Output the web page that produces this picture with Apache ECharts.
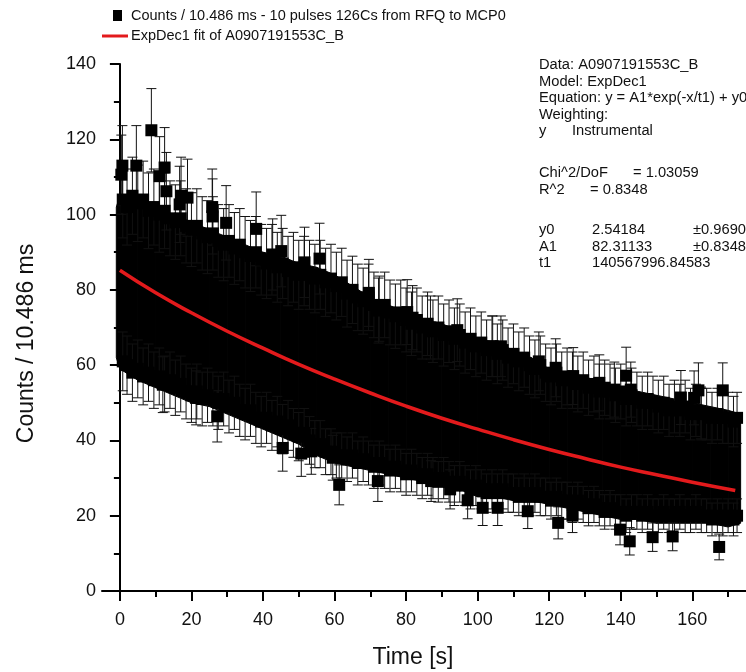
<!DOCTYPE html>
<html><head><meta charset="utf-8">
<script src="https://cdn.jsdelivr.net/npm/echarts@6/dist/echarts.min.js"></script>
<style>html,body{margin:0;padding:0;background:#fff}#c{width:746px;height:672px}</style>
</head><body><div id="c"></div>
<script>
const FONT = '"Liberation Sans", Arial, sans-serif';

// ---- tick labels ----
const xTickValues = [0, 20, 40, 60, 80, 100, 120, 140, 160];
const xMinorTickValues = [10, 30, 50, 70, 90, 110, 130, 150, 170];

// ---- dense data cloud envelope (solid black region) ----
const coreX      = [-1, 0, 5, 10, 15, 20, 25, 30, 35, 40, 45, 50, 55, 60, 65, 70, 75, 80, 85, 90, 95, 100, 105, 110, 115, 120, 125, 130, 135, 140, 145, 150, 155, 160, 165, 170, 173.5];
const coreTop    = [102, 105, 105, 102, 100, 98, 96, 94, 92, 90, 89, 87, 86, 84, 81, 78, 76, 74, 72, 71, 69, 67, 66, 64, 62, 59, 58, 57, 55, 54, 53, 52, 51, 50, 49, 48, 47];
const coreBottom = [62, 59, 56, 54, 52, 50, 49, 47, 45, 43, 41, 39, 36, 34, 33, 32, 31, 30, 29, 28, 27, 25, 25, 24, 24, 23, 22, 21, 20, 19, 19, 18, 18, 18, 18, 17, 18];

// ---- points along the upper and lower edges of the cloud ----
const edgeTopPoints = [[0.8,104],[2,102],[3.5,105],[5,103],[6.5,104],[8,101],[9.5,102],[11,100],[12.5,101],[14,99],[15.5,98],[17,99],[18.5,97],[20,96],[21.5,97],[23,95],[24.5,94],[26,95],[27.5,93],[29,92],[30.5,93],[32,91],[33.5,92],[35,90],[36.5,89],[38,90],[39.5,88],[41,87],[42.5,88],[44,86],[45.5,87],[47,85],[48.5,86],[50,84],[51.5,85],[53,84],[54.5,83],[56,84],[57.5,82],[59,83],[60.5,81],[62,82],[63.5,79],[65,80],[66.5,78],[68,77],[69.5,78],[71,76],[72.5,75],[74,76],[75.5,74],[77,73],[78.5,74],[80,72],[81.5,71],[83,72],[84.5,70],[86,71],[87.5,69],[89,70],[90.5,68],[92,69],[93.5,67],[95,68],[96.5,66],[98,67],[99.5,65],[101,66],[102.5,64],[104,65],[105.5,63],[107,64],[108.5,62],[110,63],[111.5,61],[113,62],[114.5,60],[116,59],[117.5,60],[119,58],[120.5,57],[122,58],[123.5,56],[125,57],[126.5,56],[128,55],[129.5,56],[131,54],[132.5,55],[134,53],[135.5,54],[137,53],[138.5,52],[140,53],[141.5,51],[143,52],[144.5,51],[146,50],[147.5,51],[149,50],[150.5,49],[152,50],[153.5,48],[155,49],[156.5,48],[158,49],[159.5,47],[161,48],[162.5,47],[164,47],[165.5,46],[167,47],[168.5,46],[170,46],[171.5,45],[172.5,46]];
const edgeBottomPoints = [[0.8,61],[2,60],[3.5,58],[5,59],[6.5,57],[8,58],[9.5,56],[11,57],[12.5,55],[14,56],[15.5,54],[17,55],[18.5,53],[20,52],[21.5,53],[23,51],[24.5,52],[26,51],[27.5,50],[29,51],[30.5,49],[32,50],[33.5,48],[35,47],[36.5,48],[38,46],[39.5,45],[41,46],[42.5,44],[44,45],[45.5,43],[47,44],[48.5,42],[50,41],[51.5,42],[53,40],[54.5,39],[56,39],[57.5,37],[59,37],[60.5,36],[62,36],[63.5,35],[65,36],[66.5,34],[68,35],[69.5,34],[71,33],[72.5,34],[74,33],[75.5,32],[77,33],[78.5,32],[80,31],[81.5,32],[83,31],[84.5,30],[86,31],[87.5,30],[89,29],[90.5,30],[92,29],[93.5,28],[95,29],[96.5,28],[98,27],[99.5,28],[101,27],[102.5,26],[104,27],[105.5,26],[107,27],[108.5,26],[110,26],[111.5,25],[113,26],[114.5,25],[116,26],[117.5,25],[119,25],[120.5,24],[122,25],[123.5,24],[125,24],[126.5,23],[128,24],[129.5,23],[131,22],[132.5,23],[134,22],[135.5,21],[137,22],[138.5,21],[140,21],[141.5,20],[143,21],[144.5,21],[146,20],[147.5,21],[149,20],[150.5,20],[152,21],[153.5,20],[155,20],[156.5,21],[158,20],[159.5,20],[161,21],[162.5,20],[164,20],[165.5,19],[167,20],[168.5,19],[170,20],[171.5,19],[172.5,20]];

// ---- isolated outlier points ----
const outlierTopPoints = [[0.4,110.6],[0.7,113],[4.6,113],[8.8,122.4],[11.1,110.2],[12.5,112.5],[13,106.2],[16.7,102.7],[17.1,105],[18.9,104.5],[25.8,102],[25.9,99.5],[29.7,97.8],[38.1,96.2],[42.7,89.4],[45.1,90.3],[51.6,87.3],[55.8,88.3],[69.6,79.2],[72.3,74.5],[80.3,74.1],[81.8,72.6],[86.8,70],[94.3,69.3],[104.2,65],[106.5,65],[117.1,61],[121.8,59.3],[126.7,57.1],[134,55.3],[138.2,53.5],[141.5,57.2],[142.8,53.5],[156.8,51.4],[160.5,51.3],[161.7,53.3],[162.4,47.3],[168.5,53.3]];
const outlierBottomPoints = [[12,54.8],[21.3,51.3],[27.2,46.4],[45.5,38],[50.7,36.5],[53.5,37.1],[59.5,35.4],[61.3,28.2],[72.1,29.2],[87,29.2],[92.3,27],[97.2,24.1],[101.4,22.1],[105.6,22.1],[114,21.2],[122.5,18.1],[126.5,20],[139.8,16.3],[142.5,13.2],[148.9,14.3],[154.5,14.5],[167.5,11.7]];

// ---- fit curve ----
const fitX = [0, 10, 20, 30, 40, 50, 60, 70, 80, 90, 100, 110, 120, 130, 140, 150, 160, 172];
const fitY = [85.2, 79.2, 73.9, 69.0, 64.5, 60.2, 56.3, 52.6, 49.1, 45.9, 43.0, 40.2, 37.6, 35.2, 32.9, 30.9, 28.9, 26.7];

// ---- texts ----
const legendNames = ['Counts / 10.486 ms - 10 pulses 126Cs from RFQ to MCP0', 'ExpDec1 fit of A0907191553C_B'];
const annotationRows = [
  ['Data: A0907191553C_B'],
  ['Model: ExpDec1'],
  ['Equation: y = A1*exp(-x/t1) + y0'],
  ['Weighting:'],
  ['y', 'Instrumental'],
  ['Chi^2/DoF', '= 1.03059'],
  ['R^2', '= 0.8348'],
  ['y0', '2.54184', '\u00b10.9690'],
  ['A1', '82.31133', '\u00b10.8348'],
  ['t1', '140567996.84583']
];

const allPoints = edgeTopPoints.concat(edgeBottomPoints, outlierTopPoints, outlierBottomPoints);
// error bars: instrumental (Poisson) weighting, +/- sqrt(counts)
const errData = allPoints.map(p => [p[0], p[1], p[1] - Math.sqrt(p[1]), p[1] + Math.sqrt(p[1])]);
const coreData = coreX.map((x, i) => [x, coreBottom[i], coreTop[i]]);

function coreRender(params, api) {
  const i = params.dataIndex;
  if (i >= coreX.length - 1) return null;
  const a = api.coord([coreX[i], coreTop[i]]);
  const b = api.coord([coreX[i + 1], coreTop[i + 1]]);
  const c = api.coord([coreX[i + 1], coreBottom[i + 1]]);
  const d = api.coord([coreX[i], coreBottom[i]]);
  return { type: 'polygon', shape: { points: [a, b, c, d] }, style: { fill: '#000', stroke: '#000', lineWidth: 1 } };
}
function errRender(params, api) {
  const x = api.value(0), lo = api.value(2), hi = api.value(3);
  const t = api.coord([x, hi]), b = api.coord([x, lo]);
  const w = 5;
  const st = { stroke: '#111', lineWidth: 1 };
  return { type: 'group', children: [
    { type: 'line', shape: { x1: t[0], y1: t[1], x2: b[0], y2: b[1] }, style: st },
    { type: 'line', shape: { x1: t[0] - w, y1: t[1], x2: t[0] + w, y2: t[1] }, style: st },
    { type: 'line', shape: { x1: b[0] - w, y1: b[1], x2: b[0] + w, y2: b[1] }, style: st }
  ]};
}

const annotY = [65, 82, 98, 115, 131, 173, 190, 230, 247, 263];
const colX = {
  4: [539, 572], 5: [539, 633], 6: [539, 590], 7: [539, 592, 693], 8: [539, 592, 693], 9: [539, 592]
};
const graphics = [
  { type: 'rect', shape: { x: 113, y: 10, width: 9, height: 11 }, style: { fill: '#000' } },
  { type: 'text', x: 131, y: 16, style: { text: legendNames[0], fontSize: 14.5, fontFamily: FONT, fill: '#111', verticalAlign: 'middle' } },
  { type: 'line', shape: { x1: 102, y1: 36, x2: 128, y2: 36 }, style: { stroke: '#e31a1c', lineWidth: 3 } },
  { type: 'text', x: 131, y: 36, style: { text: legendNames[1], fontSize: 14.5, fontFamily: FONT, fill: '#111', verticalAlign: 'middle' } }
];
annotationRows.forEach((row, r) => {
  row.forEach((txt, k) => {
    const xs = colX[r] || [539];
    graphics.push({ type: 'text', x: xs[k], y: annotY[r], style: { text: txt, fontSize: 14.7, fontFamily: FONT, fill: '#111', verticalAlign: 'middle' } });
  });
});

const chart = echarts.init(document.getElementById('c'), null, { renderer: 'canvas' });
chart.setOption({
  animation: false,
  backgroundColor: '#fff',
  grid: { left: 102, right: 0, top: 64, bottom: 81, containLabel: false, outerBoundsMode: 'none' },
  xAxis: [
    { type: 'value', min: -5, max: 175, position: 'bottom',
      axisLine: { show: true, onZero: false, lineStyle: { color: '#000', width: 2 } },
      axisTick: { show: true, length: 10, lineStyle: { color: '#000', width: 2 }, customValues: xTickValues },
      axisLabel: { show: true, customValues: xTickValues, fontSize: 18, fontFamily: FONT, color: '#111', margin: 20 },
      splitLine: { show: false },
      name: 'Time [s]', nameLocation: 'middle', nameGap: 55,
      nameTextStyle: { fontSize: 23, fontFamily: FONT, color: '#111', padding: [0, 22, 0, 0] } },
    { type: 'value', min: -5, max: 175, position: 'bottom',
      axisLine: { show: false, onZero: false },
      axisTick: { show: true, length: 6, lineStyle: { color: '#000', width: 2 }, customValues: xMinorTickValues },
      axisLabel: { show: false }, splitLine: { show: false } }
  ],
  yAxis: {
    type: 'value', min: 0, max: 140, interval: 20,
    axisLine: { show: true, lineStyle: { color: '#000', width: 2 } },
    axisTick: { show: true, length: 10, lineStyle: { color: '#000', width: 2 } },
    minorTick: { show: true, splitNumber: 2, length: 6, lineStyle: { color: '#000', width: 2 } },
    axisLabel: { fontSize: 18, fontFamily: FONT, color: '#111', margin: 6 },
    splitLine: { show: false },
    name: 'Counts / 10.486 ms', nameLocation: 'middle', nameGap: 64,
    nameTextStyle: { fontSize: 23, fontFamily: FONT, color: '#111', padding: [0, 32, 0, 0] }
  },
  graphic: graphics,
  series: [
    { type: 'custom', name: 'core', renderItem: coreRender, data: coreData, encode: { x: 0, y: [1, 2] }, z: 1, silent: true },
    { type: 'custom', name: 'err', renderItem: errRender, data: errData, encode: { x: 0, y: [2, 3] }, z: 2, silent: true },
    { type: 'scatter', name: legendNames[0], data: allPoints, symbol: 'rect', symbolSize: 12, itemStyle: { color: '#000', opacity: 1 }, z: 3 },
    { type: 'line', name: legendNames[1], data: fitX.map((x, i) => [x, fitY[i]]), smooth: true, showSymbol: false,
      lineStyle: { color: '#e31a1c', width: 3.5 }, z: 4 }
  ]
});
</script></body></html>
